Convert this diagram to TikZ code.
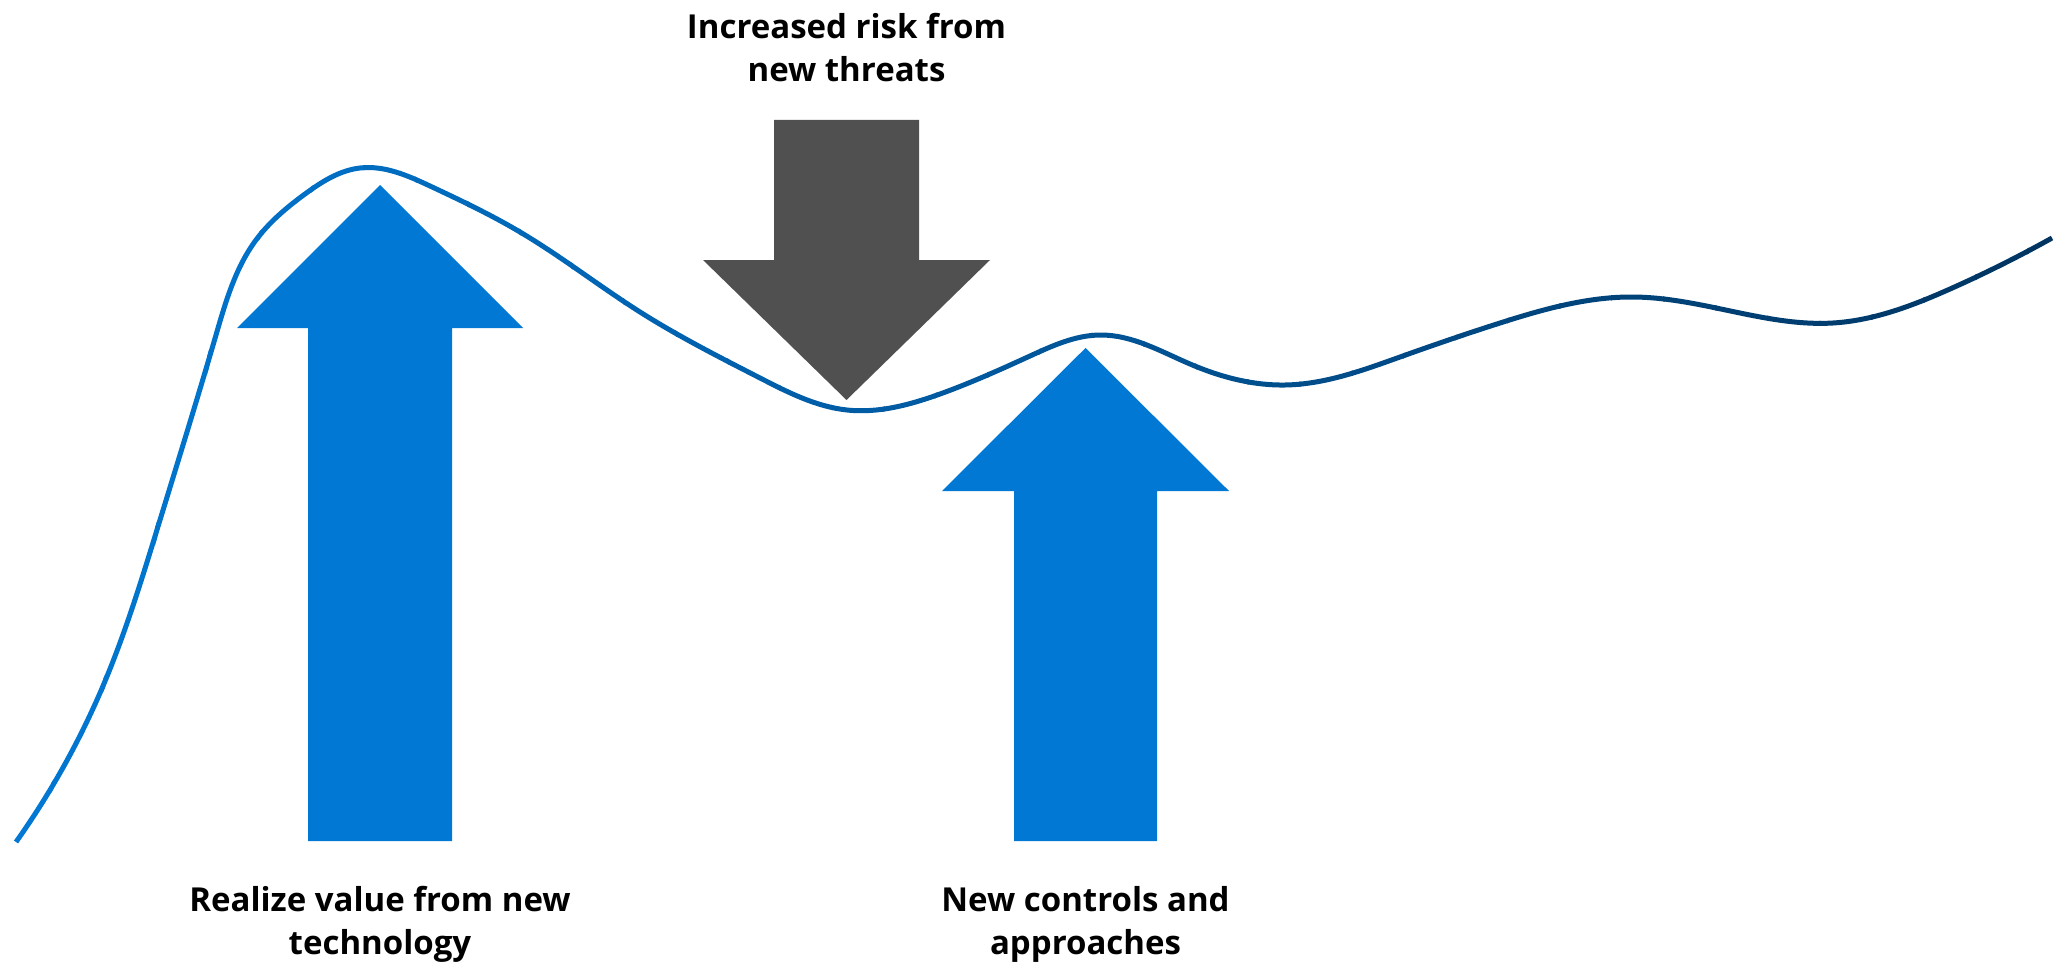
\documentclass[tikz,border=0pt]{standalone}
\usepackage{fontspec}
\setmainfont{Open Sans}
\usetikzlibrary{hobby}

\definecolor{valueblue}{HTML}{0078D4}
\definecolor{threatgray}{HTML}{505050}
\definecolor{curvestart}{HTML}{0078D4}
\definecolor{curveend}{HTML}{00335E}

% the value curve, in pixel units (y runs down)
\newcommand{\valuecurve}{(16,842) .. (103,686) .. (160,520) .. (216,335)
  .. (256,240) .. (305,194) .. (360,168) .. (430,186) .. (520,232)
  .. (640,312) .. (760,378) .. (847,410) .. (940,394) .. (1030,356)
  .. (1100,335) .. (1190,364) .. (1285,385) .. (1400,357) .. (1500,323)
  .. (1633,297) .. (1740,313) .. (1833,323) .. (1950,289) .. (2052,238)}

\tikzset{
  caption/.style={align=center, inner sep=0pt,
    font=\bfseries\fontsize{16.5}{21.5}\selectfont},
  curveline/.style={line width=2.5pt, use Hobby shortcut},
}

\begin{document}
\begin{tikzpicture}[x=0.5pt,y=-0.5pt]
    \useasboundingbox[fill=white] (0,0) rectangle (2054,963);

    % curve goes from light to dark blue, one strip at a time
    \foreach \i in {0,...,39} {
        \pgfmathsetmacro\mixpct{100-2.5*\i}
        \begin{scope}
            \clip (\i*52-1,0) rectangle (\i*52+53,963);
            \draw[curveline, draw=curvestart!\mixpct!curveend] \valuecurve;
        \end{scope}
    }

    % block arrows
    \fill[valueblue] (308,841) -- (308,328) -- (237,328) -- (380,185)
        -- (523,328) -- (452,328) -- (452,841) -- cycle;
    \fill[valueblue] (1014,841) -- (1014,491) -- (942,491) -- (1085.5,348)
        -- (1229,491) -- (1157,491) -- (1157,841) -- cycle;
    \fill[threatgray] (774,120) -- (774,260) -- (703,260) -- (846.5,400)
        -- (990,260) -- (919,260) -- (919,120) -- cycle;

    \node[caption] (risk) at (846.5,47.6) {Increased risk from\\new threats};
    \node[caption] (value) at (380,924.6) {Realize value from new\\technology};
    \node[caption] (controls) at (1085.5,924.6) {New controls and\\approaches};

\end{tikzpicture}
\end{document}
